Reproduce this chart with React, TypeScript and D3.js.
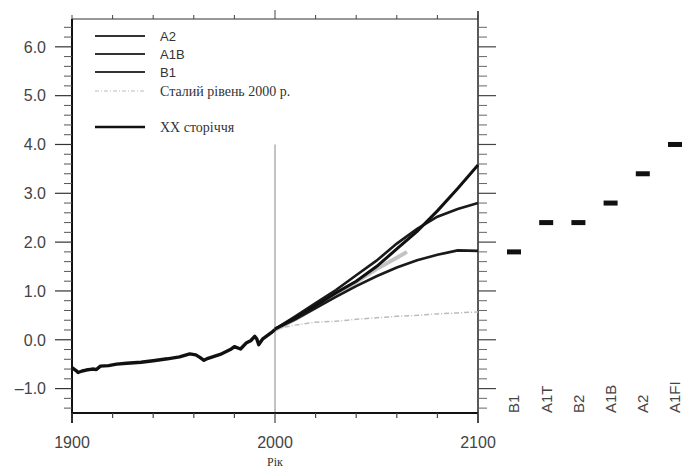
import React from 'react';
import * as d3 from 'd3';

// 20th century observed/simulated
const centuryYears = [1900, 1902, 1903, 1905, 1907, 1910, 1912, 1914, 1918, 1922, 1927, 1934, 1940, 1947, 1953, 1958, 1961, 1963, 1965, 1967, 1970, 1973, 1976, 1978, 1980, 1983, 1986, 1988, 1990, 1991, 1992, 1994, 1996, 1998, 2000];
const centuryValues = [-0.57, -0.63, -0.67, -0.64, -0.62, -0.6, -0.61, -0.54, -0.53, -0.5, -0.48, -0.46, -0.43, -0.39, -0.35, -0.29, -0.31, -0.36, -0.42, -0.38, -0.34, -0.3, -0.24, -0.2, -0.14, -0.19, -0.06, -0.02, 0.07, 0.02, -0.1, 0.02, 0.08, 0.14, 0.21];

const scenarioYears = [2000, 2010, 2020, 2030, 2040, 2050, 2060, 2070, 2080, 2090, 2100];
const a2Values = [0.22, 0.45, 0.7, 0.96, 1.2, 1.5, 1.86, 2.22, 2.64, 3.1, 3.58];
const a1bValues = [0.22, 0.48, 0.75, 1.02, 1.32, 1.62, 1.97, 2.27, 2.52, 2.68, 2.8];
const b1Values = [0.22, 0.42, 0.65, 0.88, 1.1, 1.3, 1.48, 1.63, 1.74, 1.83, 1.82];
const commitValues = [0.22, 0.3, 0.36, 0.38, 0.42, 0.45, 0.48, 0.5, 0.53, 0.55, 0.57];
// light grey ensemble spread shown until ~2065
const spreadYears = [2000, 2010, 2020, 2030, 2040, 2050, 2060, 2065];
const spreadValues = [0.2, 0.42, 0.66, 0.92, 1.18, 1.45, 1.68, 1.8];

// best estimates for 2090-2099, per scenario
const barCategories = ['B1', 'A1T', 'B2', 'A1B', 'A2', 'A1FI'];
const barValues = [1.8, 2.4, 2.4, 2.8, 3.4, 4.0];

const yTickLabels = ['6.0', '5.0', '4.0', '3.0', '2.0', '1.0', '0.0', '\u20131.0'];
const yTickValues = [6, 5, 4, 3, 2, 1, 0, -1];
const xTickLabels = ['1900', '2000', '2100'];

const legendLabels = ['A2', 'A1B', 'B1', 'Сталий рівень 2000 р.', 'XX сторіччя'];

const sans = '"Liberation Sans", Arial, sans-serif';
const serif = '"Liberation Serif", "Times New Roman", serif';

const App = () => {
  const left = 72, right = 478, top = 19, bottom = 413;
  const x = d3.scaleLinear().domain([1900, 2100]).range([left, right]);
  const y = d3.scaleLinear().domain([-1.5, 6.57]).range([bottom, top]);
  const bx = d3.scalePoint<string>().domain(barCategories).range([514, 675]);

  const line = d3.line<[number, number]>()
    .x(d => x(d[0]))
    .y(d => y(d[1]));

  const zip = (xs: number[], vs: number[]) => xs.map((v, i) => [v, vs[i]] as [number, number]);

  const minorY = d3.range(-1.4, 6.6, 0.2).filter(v => Math.abs(v - Math.round(v)) > 0.01);
  const xTicks = d3.range(1900, 2101, 20);

  const legendY = [36, 54, 72, 91, 127];

  return (
    <svg width={683} height={471} style={{ position: 'absolute', left: 0, top: 0, background: '#fff' }}>
      {/* vertical marker at 2000 */}
      <line x1={x(2000)} x2={x(2000)} y1={y(4.0)} y2={bottom} stroke="#888" strokeWidth={1} />

      {/* frame */}
      <line x1={left} x2={right} y1={top} y2={top} stroke="#333" strokeWidth={1.2} />
      <line x1={left} x2={right} y1={bottom} y2={bottom} stroke="#111" strokeWidth={2.2} />
      <line x1={left} x2={left} y1={top} y2={bottom + 10} stroke="#111" strokeWidth={2} />
      <line x1={right} x2={right} y1={top - 8} y2={bottom + 10} stroke="#222" strokeWidth={1.5} />

      {/* left axis ticks */}
      {yTickValues.map(v => (
        <line key={'lt' + v} x1={left - 17} x2={left} y1={y(v)} y2={y(v)} stroke="#333" strokeWidth={1.2} />
      ))}
      {minorY.map(v => (
        <line key={'lm' + v} x1={left - 8} x2={left} y1={y(v)} y2={y(v)} stroke="#555" strokeWidth={1} />
      ))}
      {yTickValues.map((v, i) => (
        <text key={'ll' + v} x={46} y={y(v)} dy="0.36em" textAnchor="end" fontFamily={sans} fontSize={16} fill="#444">
          {yTickLabels[i]}
        </text>
      ))}

      {/* right axis ticks */}
      {yTickValues.map(v => (
        <line key={'rt' + v} x1={right} x2={right + 18} y1={y(v)} y2={y(v)} stroke="#444" strokeWidth={1.2} />
      ))}
      {minorY.map(v => (
        <line key={'rm' + v} x1={right} x2={right + 9} y1={y(v)} y2={y(v)} stroke="#666" strokeWidth={1} />
      ))}

      {/* top and bottom ticks */}
      {xTicks.map(t => (
        <line key={'tt' + t} x1={x(t)} x2={x(t)} y1={top - (t === 2000 ? 9 : 4)} y2={top} stroke="#444" strokeWidth={1} />
      ))}
      {xTicks.map(t => (
        <line key={'bt' + t} x1={x(t)} x2={x(t)} y1={bottom} y2={bottom + (t % 100 === 0 ? 10 : 5)} stroke="#444" strokeWidth={1.2} />
      ))}
      {xTickLabels.map(l => (
        <text key={'xl' + l} x={x(+l)} y={448} textAnchor="middle" fontFamily={sans} fontSize={16} fill="#444">{l}</text>
      ))}
      <text x={x(2000)} y={466} textAnchor="middle" fontFamily={serif} fontSize={12} fill="#333">Рік</text>

      {/* commitment line */}
      <path d={line(zip(scenarioYears, commitValues)) || ''} fill="none" stroke="#bbb" strokeWidth={1.5} strokeDasharray="5 2 1 2" />
      {/* ensemble spread */}
      <path d={line(zip(spreadYears, spreadValues)) || ''} fill="none" stroke="#aaa" strokeWidth={4} opacity={0.7} />

      {/* scenarios */}
      <path d={line(zip(scenarioYears, b1Values)) || ''} fill="none" stroke="#1a1a1a" strokeWidth={2.6} />
      <path d={line(zip(scenarioYears, a1bValues)) || ''} fill="none" stroke="#1a1a1a" strokeWidth={2.6} />
      <path d={line(zip(scenarioYears, a2Values)) || ''} fill="none" stroke="#111" strokeWidth={3} />

      {/* 20th century */}
      <path d={line(zip(centuryYears, centuryValues)) || ''} fill="none" stroke="#111" strokeWidth={3.4} strokeLinejoin="round" />

      {/* legend */}
      {legendLabels.map((l, i) => (
        <g key={'lg' + i}>
          <line x1={95} x2={145} y1={legendY[i]} y2={legendY[i]}
            stroke={i === 3 ? '#bbb' : i === 4 ? '#111' : '#333'}
            strokeWidth={i === 3 ? 1.2 : i === 4 ? 2.6 : 2.2}
            strokeDasharray={i === 3 ? '4 2 1 2' : undefined} />
          <text x={160} y={legendY[i]} dy="0.35em" fontFamily={i < 3 ? sans : serif} fontSize={i < 3 ? 13 : 14} fill="#333">{l}</text>
        </g>
      ))}

      {/* right panel: best estimates */}
      {barCategories.map((c, i) => (
        <g key={'bar' + c}>
          <rect x={(bx(c) || 0) - 7} y={y(barValues[i]) - 2.5} width={14} height={5} fill="#111" />
          <text transform={`translate(${bx(c)},${bottom}) rotate(-90)`} dy="0.36em" fontFamily={sans} fontSize={15} fill="#444">{c}</text>
        </g>
      ))}
    </svg>
  );
};

export default App;
